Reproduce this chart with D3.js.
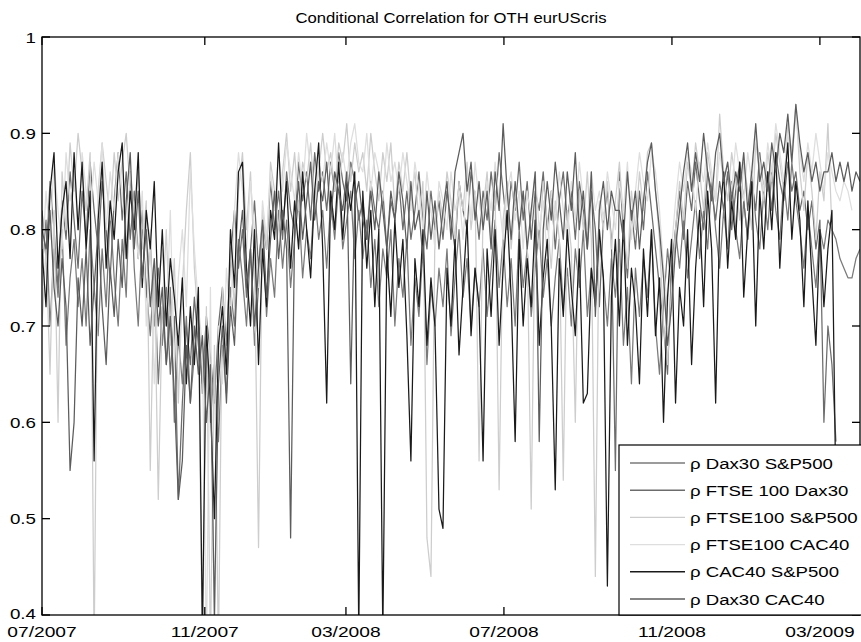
<!DOCTYPE html>
<html><head><meta charset="utf-8">
<script src="https://cdn.jsdelivr.net/npm/d3@7"></script>
<style>body{margin:0;background:#fff} text{font-family:"Liberation Sans",Arial,Helvetica,sans-serif;fill:#000}</style>
</head><body><svg id="c" width="861" height="642"></svg>
<script>
const title = "Conditional Correlation for OTH eurUScris";
const xTickIdx = [0, 40.6, 75.8, 115.2, 157.1, 194.0];
const xTickLabels = ["07/2007","11/2007","03/2008","07/2008","11/2008","03/2009"];
const yTicks = [0.4,0.5,0.6,0.7,0.8,0.9,1];
const yTickLabels = ["0.4","0.5","0.6","0.7","0.8","0.9","1"];
const seriesNames = ["\u03c1 Dax30 S&P500","\u03c1 FTSE 100 Dax30","\u03c1 FTSE100 S&P500","\u03c1 FTSE100 CAC40","\u03c1 CAC40 S&P500","\u03c1 Dax30 CAC40"];
const seriesColors = ["#7a7a7a","#6c6c6c","#cdcdcd","#dedede","#1a1a1a","#5c5c5c"];

const dax30Sp500 = [
0.76,0.81,0.70,0.78,0.73,0.80,0.68,0.75,0.79,0.72,
0.77,0.70,0.80,0.74,0.69,0.78,0.72,0.82,0.75,0.70,
0.79,0.73,0.86,0.76,0.70,0.80,0.74,0.69,0.76,0.64,
0.72,0.66,0.74,0.60,0.69,0.64,0.71,0.62,0.67,0.72,
0.63,0.69,0.60,0.66,0.58,0.68,0.63,0.74,0.70,0.79,
0.75,0.70,0.78,0.68,0.74,0.80,0.71,0.77,0.73,0.82,
0.76,0.81,0.74,0.79,0.83,0.75,0.80,0.77,0.84,0.79,
0.82,0.76,0.83,0.79,0.85,0.78,0.81,0.84,0.77,0.82,
0.77,0.81,0.74,0.79,0.72,0.78,0.75,0.80,0.70,0.77,
0.73,0.79,0.68,0.75,0.71,0.78,0.66,0.74,0.70,0.76,
0.72,0.78,0.69,0.75,0.80,0.73,0.77,0.70,0.76,0.72,
0.78,0.71,0.76,0.81,0.74,0.79,0.72,0.77,0.70,0.80,
0.74,0.78,0.71,0.76,0.80,0.73,0.77,0.70,0.75,0.79,
0.72,0.76,0.70,0.78,0.74,0.80,0.71,0.76,0.73,0.79,
0.75,0.70,0.77,0.73,0.79,0.68,0.74,0.64,0.76,0.71,
0.77,0.73,0.80,0.70,0.65,0.72,0.78,0.74,0.80,0.76,
0.81,0.75,0.79,0.83,0.77,0.82,0.78,0.85,0.80,0.76,
0.82,0.78,0.85,0.80,0.77,0.83,0.79,0.86,0.81,0.78,
0.84,0.80,0.86,0.82,0.79,0.85,0.81,0.87,0.83,0.80,
0.76,0.82,0.78,0.74,0.80,0.78,0.81,0.80,0.79,0.77,
0.76,0.75,0.75,0.77,0.78];

const ftse100Dax30 = [
0.82,0.77,0.85,0.80,0.74,0.83,0.79,0.86,0.81,0.76,
0.84,0.79,0.87,0.82,0.78,0.85,0.80,0.75,0.83,0.88,
0.81,0.86,0.79,0.84,0.77,0.82,0.73,0.79,0.70,0.76,
0.68,0.74,0.65,0.71,0.52,0.62,0.70,0.66,0.73,0.68,
0.64,0.71,0.67,0.62,0.70,0.74,0.68,0.77,0.82,0.76,
0.80,0.73,0.78,0.83,0.76,0.81,0.78,0.85,0.80,0.84,
0.79,0.86,0.82,0.80,0.87,0.83,0.86,0.81,0.88,0.84,
0.86,0.82,0.87,0.84,0.88,0.85,0.83,0.87,0.85,0.81,
0.83,0.79,0.85,0.82,0.80,0.84,0.78,0.83,0.81,0.85,
0.80,0.84,0.79,0.82,0.86,0.81,0.78,0.84,0.80,0.83,
0.79,0.84,0.81,0.78,0.85,0.82,0.80,0.86,0.83,0.79,
0.84,0.81,0.86,0.82,0.88,0.84,0.80,0.85,0.82,0.87,
0.81,0.85,0.79,0.84,0.82,0.86,0.80,0.84,0.78,0.83,
0.86,0.81,0.84,0.79,0.85,0.82,0.78,0.84,0.80,0.72,
0.81,0.84,0.79,0.55,0.86,0.80,0.75,0.82,0.78,0.84,
0.80,0.86,0.82,0.78,0.74,0.70,0.65,0.76,0.80,0.84,
0.79,0.85,0.82,0.87,0.83,0.80,0.86,0.84,0.81,0.85,
0.82,0.86,0.80,0.84,0.87,0.83,0.79,0.85,0.82,0.88,
0.84,0.86,0.82,0.88,0.85,0.83,0.87,0.84,0.86,0.82,
0.84,0.80,0.83,0.78,0.81,0.60,0.70,0.66,0.58];

const ftse100Sp500 = [
0.70,0.78,0.65,0.82,0.60,0.86,0.80,0.89,0.84,0.90,
0.86,0.82,0.88,0.36,0.84,0.89,0.85,0.81,0.88,0.83,
0.87,0.90,0.84,0.80,0.86,0.78,0.83,0.55,0.76,0.52,
0.72,0.80,0.68,0.77,0.62,0.74,0.82,0.88,0.76,0.70,
0.36,0.72,0.36,0.68,0.36,0.74,0.66,0.78,0.72,0.84,
0.88,0.80,0.86,0.76,0.47,0.82,0.78,0.87,0.84,0.80,
0.86,0.90,0.84,0.88,0.82,0.87,0.85,0.89,0.83,0.86,
0.90,0.86,0.88,0.84,0.89,0.87,0.91,0.85,0.89,0.86,
0.88,0.84,0.90,0.86,0.83,0.88,0.85,0.89,0.82,0.87,
0.84,0.88,0.83,0.86,0.81,0.85,0.48,0.44,0.80,0.84,
0.81,0.86,0.83,0.79,0.85,0.82,0.87,0.80,0.84,0.56,
0.82,0.86,0.79,0.84,0.53,0.81,0.85,0.78,0.83,0.80,
0.84,0.79,0.51,0.82,0.78,0.85,0.81,0.76,0.83,0.79,
0.54,0.82,0.78,0.60,0.84,0.80,0.86,0.79,0.44,0.83,
0.80,0.85,0.78,0.83,0.87,0.81,0.76,0.84,0.80,0.86,
0.82,0.88,0.89,0.84,0.79,0.70,0.66,0.74,0.80,0.85,
0.81,0.87,0.84,0.89,0.86,0.82,0.88,0.85,0.83,0.92,
0.86,0.83,0.88,0.85,0.81,0.87,0.84,0.80,0.89,0.86,
0.83,0.88,0.85,0.90,0.87,0.84,0.91,0.88,0.93,0.86,
0.82,0.88,0.84,0.79,0.86,0.83,0.91,0.80];

const ftse100Cac40 = [
0.76,0.84,0.79,0.87,0.82,0.78,0.88,0.83,0.86,0.80,
0.88,0.84,0.81,0.87,0.83,0.89,0.80,0.86,0.82,0.88,
0.84,0.79,0.86,0.82,0.77,0.84,0.70,0.80,0.64,0.74,
0.78,0.70,0.82,0.66,0.75,0.80,0.72,0.86,0.78,0.72,
0.68,0.36,0.74,0.36,0.70,0.64,0.76,0.70,0.82,0.88,
0.84,0.78,0.85,0.80,0.74,0.83,0.79,0.86,0.82,0.88,
0.84,0.89,0.86,0.83,0.88,0.84,0.90,0.86,0.82,0.87,
0.85,0.89,0.86,0.90,0.84,0.88,0.85,0.89,0.91,0.87,
0.86,0.90,0.84,0.88,0.86,0.83,0.89,0.85,0.87,0.84,
0.88,0.85,0.82,0.87,0.84,0.80,0.86,0.82,0.78,0.85,
0.83,0.80,0.86,0.82,0.84,0.79,0.85,0.81,0.87,0.83,
0.80,0.85,0.82,0.87,0.83,0.79,0.84,0.86,0.81,0.84,
0.78,0.84,0.81,0.86,0.80,0.83,0.77,0.84,0.81,0.86,
0.82,0.79,0.85,0.81,0.87,0.83,0.80,0.86,0.82,0.84,
0.81,0.86,0.83,0.80,0.85,0.82,0.87,0.79,0.84,0.88,
0.85,0.83,0.88,0.86,0.82,0.76,0.72,0.78,0.83,0.87,
0.84,0.88,0.86,0.82,0.87,0.85,0.89,0.86,0.83,0.88,
0.85,0.87,0.84,0.89,0.86,0.83,0.88,0.85,0.90,0.87,
0.84,0.89,0.86,0.91,0.88,0.85,0.90,0.87,0.92,0.88,
0.85,0.89,0.86,0.90,0.87,0.84,0.88,0.86,0.84,0.83,
0.85,0.84,0.82];

const cac40Sp500 = [
0.78,0.72,0.84,0.88,0.76,0.82,0.85,0.77,0.88,0.80,
0.87,0.78,0.84,0.56,0.81,0.87,0.76,0.83,0.79,0.86,
0.89,0.77,0.84,0.80,0.88,0.74,0.82,0.78,0.85,0.72,
0.80,0.70,0.77,0.73,0.68,0.75,0.64,0.72,0.66,0.74,
0.38,0.70,0.62,0.50,0.68,0.72,0.65,0.80,0.74,0.86,
0.87,0.76,0.70,0.80,0.66,0.78,0.72,0.82,0.79,0.89,
0.80,0.85,0.76,0.83,0.78,0.86,0.80,0.75,0.84,0.89,
0.78,0.62,0.84,0.80,0.87,0.79,0.85,0.82,0.86,0.38,
0.84,0.76,0.82,0.72,0.80,0.38,0.78,0.71,0.81,0.74,
0.79,0.69,0.56,0.77,0.72,0.80,0.68,0.75,0.70,0.51,
0.49,0.76,0.70,0.79,0.67,0.74,0.81,0.69,0.76,0.72,
0.56,0.78,0.71,0.80,0.68,0.76,0.82,0.73,0.58,0.79,
0.70,0.77,0.72,0.81,0.68,0.75,0.79,0.70,0.53,0.77,
0.71,0.80,0.74,0.69,0.78,0.62,0.63,0.76,0.72,0.80,
0.75,0.43,0.73,0.79,0.70,0.81,0.68,0.76,0.72,0.64,
0.78,0.71,0.80,0.69,0.75,0.60,0.73,0.79,0.62,0.74,
0.70,0.80,0.66,0.76,0.82,0.72,0.84,0.78,0.62,0.81,
0.86,0.76,0.83,0.79,0.87,0.73,0.80,0.85,0.70,0.84,
0.78,0.86,0.80,0.88,0.76,0.84,0.89,0.79,0.85,0.81,
0.72,0.83,0.75,0.68,0.80,0.72,0.78,0.82,0.52];

const dax30Cac40 = [
0.80,0.78,0.82,0.74,0.70,0.77,0.72,0.55,0.60,0.75,
0.70,0.78,0.68,0.74,0.80,0.72,0.66,0.76,0.71,0.79,
0.74,0.83,0.88,0.78,0.84,0.75,0.80,0.72,0.77,0.70,
0.74,0.66,0.71,0.63,0.52,0.56,0.68,0.62,0.70,0.65,
0.69,0.60,0.66,0.40,0.64,0.70,0.62,0.72,0.68,0.78,
0.82,0.74,0.78,0.70,0.76,0.81,0.73,0.79,0.84,0.77,
0.82,0.78,0.48,0.80,0.85,0.79,0.83,0.87,0.81,0.85,
0.83,0.87,0.81,0.86,0.84,0.82,0.86,0.64,0.83,0.85,
0.81,0.79,0.84,0.80,0.86,0.82,0.78,0.84,0.81,0.86,
0.83,0.78,0.85,0.80,0.82,0.77,0.84,0.79,0.83,0.78,
0.82,0.85,0.79,0.86,0.88,0.90,0.84,0.87,0.81,0.85,
0.80,0.84,0.78,0.86,0.82,0.91,0.84,0.79,0.85,0.80,
0.84,0.78,0.82,0.86,0.58,0.80,0.85,0.81,0.87,0.83,
0.79,0.86,0.82,0.88,0.80,0.84,0.78,0.86,0.71,0.82,
0.85,0.80,0.84,0.82,0.82,0.79,0.86,0.81,0.84,0.78,
0.83,0.87,0.89,0.84,0.80,0.75,0.68,0.72,0.78,0.82,
0.86,0.89,0.84,0.88,0.85,0.90,0.86,0.83,0.88,0.90,
0.85,0.87,0.83,0.86,0.84,0.88,0.82,0.86,0.91,0.85,
0.87,0.84,0.89,0.86,0.90,0.88,0.92,0.87,0.93,0.89,
0.86,0.88,0.85,0.87,0.84,0.86,0.86,0.88,0.85,0.87,
0.85,0.87,0.84,0.86,0.85];

const series = [dax30Sp500, ftse100Dax30, ftse100Sp500, ftse100Cac40, cac40Sp500, dax30Cac40];

const L = 42, R = 860, T = 37, B = 615;
const svg = d3.select("#c");
const x = d3.scaleLinear().domain([0, 204]).range([L, R]);
const y = d3.scaleLinear().domain([0.4, 1]).range([B, T]);

svg.append("defs").append("clipPath").attr("id","clip")
  .append("rect").attr("x",L).attr("y",T).attr("width",R-L).attr("height",B-T);

const line = d3.line().x((d,i)=>x(i)).y(d=>y(d));
const gLines = svg.append("g").attr("clip-path","url(#clip)");
series.forEach((s,k)=>{
  gLines.append("path").datum(s).attr("d",line)
    .attr("fill","none").attr("stroke",seriesColors[k]).attr("stroke-width",1.25)
    .attr("stroke-linejoin","round");
});

function label(px, py, txt, size, sx, anchor){
  svg.append("text").attr("transform",`translate(${px},${py}) scale(${sx},1)`)
    .attr("font-size",size).attr("text-anchor",anchor).text(txt);
}

// frame
const ax = svg.append("g").attr("stroke","#000").attr("stroke-width",1.3).attr("fill","none");
ax.append("rect").attr("x",L).attr("y",T).attr("width",R-L).attr("height",B-T);
yTicks.forEach((v,i)=>{
  ax.append("line").attr("x1",L).attr("x2",L+8).attr("y1",y(v)).attr("y2",y(v));
  ax.append("line").attr("x1",R-8).attr("x2",R).attr("y1",y(v)).attr("y2",y(v));
  label(36, i === 0 ? 618.5 : y(v)+5.5, yTickLabels[i], 15, 1.25, "end");
});
xTickIdx.forEach((t,i)=>{
  ax.append("line").attr("x1",x(t)).attr("x2",x(t)).attr("y1",B).attr("y2",B-8);
  ax.append("line").attr("x1",x(t)).attr("x2",x(t)).attr("y1",T).attr("y2",T+8);
  label(Math.max(x(t), 37), 637, xTickLabels[i], 15, 1.28, "middle");
});

label((L+R)/2, 23, title, 14.5, 1.15, "middle");

// legend
const lg = svg.append("g");
lg.append("rect").attr("x",619).attr("y",445).attr("width",R-619+2).attr("height",B-445)
  .attr("fill","#fff").attr("stroke","#000").attr("stroke-width",1.2);
seriesNames.forEach((n,k)=>{
  const ry = 463 + k*27.2;
  lg.append("line").attr("x1",630).attr("x2",685).attr("y1",ry).attr("y2",ry)
    .attr("stroke",seriesColors[k]).attr("stroke-width",1.4);
  label(690, ry+5.5, n, 15.5, 1.2, "start");
});
</script></body></html>
